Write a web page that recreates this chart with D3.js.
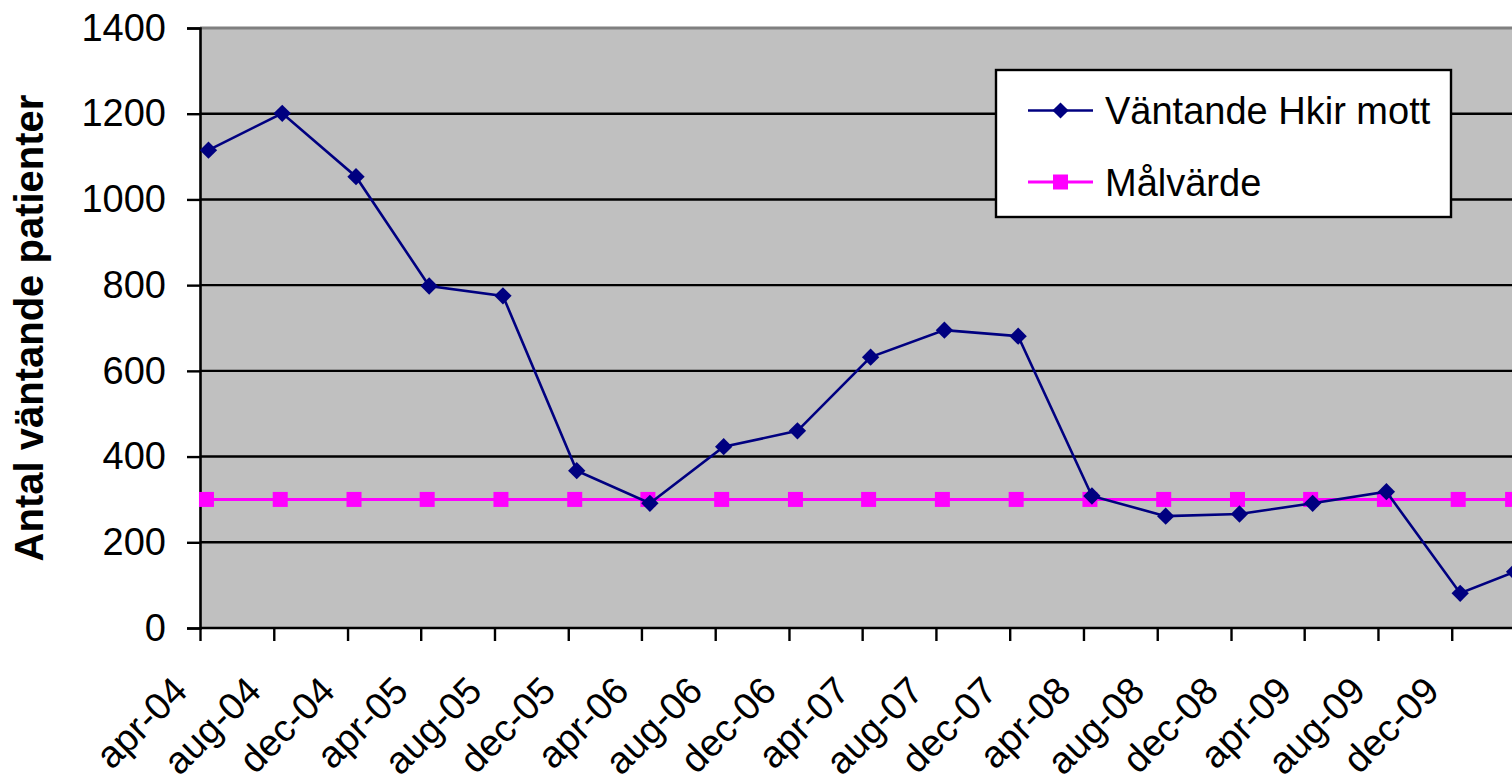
<!DOCTYPE html>
<html>
<head>
<meta charset="utf-8">
<script src="https://cdn.jsdelivr.net/npm/d3@7"></script>
<style>
  html, body { margin: 0; padding: 0; background: #fff; overflow: hidden; }
  svg { display: block; font-family: "Liberation Sans", Arial, sans-serif; }
</style>
</head>
<body>
<svg id="chart" width="1512" height="782"></svg>
<script>
// Measurement dates (mid-month, every fourth month)
const months = [
  "2004-04", "2004-08", "2004-12", "2005-04", "2005-08", "2005-12",
  "2006-04", "2006-08", "2006-12", "2007-04", "2007-08", "2007-12",
  "2008-04", "2008-08", "2008-12", "2009-04", "2009-08", "2009-12", "2010-03"
];
// Number of waiting patients
const waiting = [1115, 1201, 1053, 798, 775, 367, 291, 423, 460, 632, 695, 681,
                 308, 261, 266, 291, 318, 81, 131];
// Target value
const target = [300, 300, 300, 300, 300, 300, 300, 300, 300, 300, 300, 300,
                300, 300, 300, 300, 300, 300, 300];
// Series names
const seriesNames = ["Väntande Hkir mott", "Målvärde"];
// Axis ticks
const xTickMonths = [
  "2004-04", "2004-08", "2004-12", "2005-04", "2005-08", "2005-12",
  "2006-04", "2006-08", "2006-12", "2007-04", "2007-08", "2007-12",
  "2008-04", "2008-08", "2008-12", "2009-04", "2009-08", "2009-12"
];
const xTickLabels = ["apr-04", "aug-04", "dec-04", "apr-05", "aug-05", "dec-05",
  "apr-06", "aug-06", "dec-06", "apr-07", "aug-07", "dec-07",
  "apr-08", "aug-08", "dec-08", "apr-09", "aug-09", "dec-09"];
const yTicks = [0, 200, 400, 600, 800, 1000, 1200, 1400];
const yTitle = "Antal väntande patienter";

const svg = d3.select("#chart");
const parseMonth = d3.utcParse("%Y-%m");
const midMonth = m => d3.utcDay.offset(parseMonth(m), 14);

const plot = { left: 200, top: 28, bottom: 628 };
const pxPerDay = 0.6047;
const domainStart = parseMonth("2004-04");
const domainEnd = parseMonth("2010-05");
const plotRight = plot.left + pxPerDay * d3.utcDay.count(domainStart, domainEnd);

const x = d3.scaleUtc().domain([domainStart, domainEnd]).range([plot.left, plotRight]);
const y = d3.scaleLinear().domain([0, 1400]).range([plot.bottom, plot.top]);

const fontSize = 38;
const fontFamily = "'Liberation Sans', Arial, sans-serif";

// Plot background
svg.append("rect")
  .attr("x", plot.left).attr("y", plot.top)
  .attr("width", plotRight - plot.left).attr("height", plot.bottom - plot.top)
  .attr("fill", "#C0C0C0");

// Horizontal gridlines
svg.append("g")
  .selectAll("line")
  .data(yTicks.filter(v => v > 0 && v < 1400))
  .join("line")
  .attr("x1", plot.left).attr("x2", plotRight)
  .attr("y1", d => y(d)).attr("y2", d => y(d))
  .attr("stroke", "#000").attr("stroke-width", 2.4);

// Top border of plot area
svg.append("line")
  .attr("x1", plot.left).attr("x2", plotRight)
  .attr("y1", y(1400)).attr("y2", y(1400))
  .attr("stroke", "#808080").attr("stroke-width", 3);

// Y axis
const yAxis = svg.append("g")
  .attr("transform", `translate(${plot.left},0)`)
  .call(d3.axisLeft(y).tickValues(yTicks).tickSize(13).tickPadding(21).tickFormat(d3.format("d")));
yAxis.select(".domain").attr("stroke", "#000").attr("stroke-width", 2.6);
yAxis.selectAll(".tick line").attr("stroke", "#000").attr("stroke-width", 2.4);
yAxis.selectAll(".tick text")
  .attr("font-size", fontSize).attr("fill", "#000")
  .attr("font-family", fontFamily);

// X axis
const xAxis = svg.append("g")
  .attr("transform", `translate(0,${plot.bottom})`)
  .call(d3.axisBottom(x)
    .tickValues(xTickMonths.map(parseMonth))
    .tickSize(13)
    .tickFormat((d, i) => xTickLabels[i]));
xAxis.select(".domain").attr("stroke", "#000").attr("stroke-width", 2.6)
  .attr("d", `M${plot.left},0H${plotRight}`);
xAxis.selectAll(".tick line").attr("stroke", "#000").attr("stroke-width", 2.4);
xAxis.selectAll(".tick text")
  .attr("font-size", fontSize).attr("fill", "#000")
  .attr("font-family", fontFamily)
  .attr("text-anchor", "end")
  .attr("y", 0).attr("dy", 0)
  .attr("transform", "translate(-11,65) rotate(-45)");

// Y axis title
svg.append("text")
  .attr("transform", `translate(43,${(plot.top + plot.bottom) / 2}) rotate(-90)`)
  .attr("text-anchor", "middle")
  .attr("font-size", 40).attr("font-weight", "bold")
  .text(yTitle);

// Series
const waitData = months.map((m, i) => ({ date: midMonth(m), value: waiting[i] }));
const targetData = months.map((m, i) => ({ date: midMonth(m), value: target[i] }));

const line = d3.line().x(d => x(d.date)).y(d => y(d.value));

// Target line spans the plot area
svg.append("line")
  .attr("x1", plot.left).attr("x2", plotRight)
  .attr("y1", y(target[0])).attr("y2", y(target[0]))
  .attr("stroke", "#FF00FF").attr("stroke-width", 3);

const sq = 15;
svg.append("g")
  .selectAll("rect")
  .data(targetData)
  .join("rect")
  .attr("x", d => x(d.date) - 2 - sq / 2).attr("y", d => y(d.value) - sq / 2)
  .attr("width", sq).attr("height", sq)
  .attr("fill", "#FF00FF");

svg.append("path")
  .datum(waitData)
  .attr("d", line)
  .attr("fill", "none").attr("stroke", "#000080").attr("stroke-width", 2.6);

svg.append("g")
  .selectAll("path")
  .data(waitData)
  .join("path")
  .attr("transform", d => `translate(${x(d.date)},${y(d.value)}) rotate(45)`)
  .attr("d", d3.symbol().type(d3.symbolSquare).size(150))
  .attr("fill", "#000080");

// Legend
const legend = svg.append("g").attr("transform", "translate(996,70)");
legend.append("rect")
  .attr("width", 455).attr("height", 147)
  .attr("fill", "#fff").attr("stroke", "#000").attr("stroke-width", 2.4);

const legendRows = [
  { name: seriesNames[0], color: "#000080", w: 2.6, marker: "diamond", cy: 40.5 },
  { name: seriesNames[1], color: "#FF00FF", w: 3, marker: "square", cy: 112 }
];
legendRows.forEach(r => {
  const g = legend.append("g").attr("transform", `translate(0,${r.cy})`);
  g.append("line").attr("x1", 32).attr("x2", 97).attr("y1", 0).attr("y2", 0)
    .attr("stroke", r.color).attr("stroke-width", r.w);
  if (r.marker === "diamond") {
    g.append("path").attr("transform", "translate(64.5,0) rotate(45)")
      .attr("d", d3.symbol().type(d3.symbolSquare).size(130)).attr("fill", r.color);
  } else {
    g.append("rect").attr("x", 64.5 - 7.5).attr("y", -7.5).attr("width", 15).attr("height", 15)
      .attr("fill", r.color);
  }
  g.append("text").attr("x", 109).attr("y", 0).attr("dy", "0.36em")
    .attr("font-size", fontSize).attr("fill", "#000")
    .text(r.name);
});
</script>
</body>
</html>
